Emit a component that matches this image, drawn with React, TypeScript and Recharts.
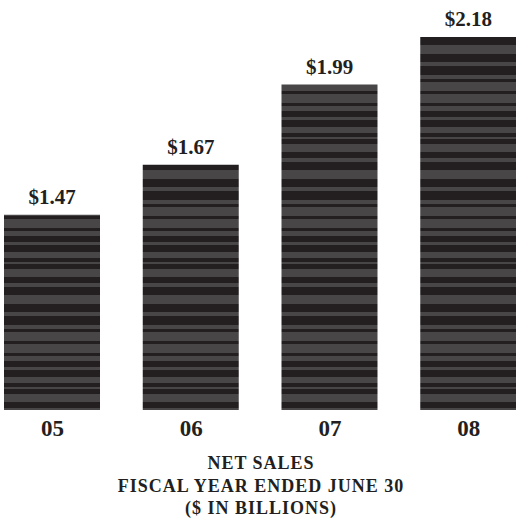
import { BarChart, Bar, XAxis, YAxis, LabelList } from "recharts";

const years = ["05", "06", "07", "08"];
const sales = [1.47, 1.67, 1.99, 2.18];
const valueLabels = ["$1.47", "$1.67", "$1.99", "$2.18"];
const titleLines = ["NET SALES", "FISCAL YEAR ENDED JUNE 30", "($ IN BILLIONS)"];

const data = years.map((year, i) => ({ year, sales: sales[i], label: valueLabels[i] }));

const INK = "#231f20";
const GREY = "#484647";
const FONT = "'Liberation Serif', 'Times New Roman', serif";

// barcode-like stripes: alternating grey / dark bands of uneven height
const stripeHeights = [4, 8, 9, 8, 4, 9, 4, 3, 9, 3, 9, 3, 5, 6, 3, 7, 6, 4, 2, 5, 8, 6];
const stripeTotal = stripeHeights.reduce((a, b) => a + b, 0);

const Stripes = () => {
  let y = 0;
  return (
    <pattern id="barcode" patternUnits="userSpaceOnUse" width={10} height={stripeTotal} y={33}>
      {stripeHeights.map((h, i) => {
        const r = <rect key={i} x={0} y={y} width={10} height={h} fill={i % 2 === 0 ? GREY : INK} />;
        y += h;
        return r;
      })}
    </pattern>
  );
};

const YearTick = (props: any) => {
  const { x, y, payload } = props;
  return (
    <text x={x} y={y} dy={18} textAnchor="middle" fill={INK} fontFamily={FONT} fontWeight="bold" fontSize={23}>
      {payload.value}
    </text>
  );
};

const ValueLabel = (props: any) => {
  const { x, y, width, value } = props;
  return (
    <text x={x + width / 2} y={y - 11} textAnchor="middle" fill={INK} fontFamily={FONT} fontWeight="bold" fontSize={21}>
      {value}
    </text>
  );
};

export default function App() {
  return (
    <div style={{ position: "absolute", left: 0, top: 0, width: 516, height: 529, overflow: "hidden", background: "#fff" }}>
      <div style={{ position: "absolute", left: -17, top: 0 }}>
        <BarChart width={555} height={529} data={data} margin={{ top: 32, right: 0, bottom: 0, left: 0 }} barSize={96}>
          <defs>
            <Stripes />
          </defs>
          <XAxis dataKey="year" axisLine={false} tickLine={false} height={119} tick={<YearTick />} interval={0} />
          <YAxis hide domain={[0.69, 2.2]} allowDataOverflow />
          <Bar dataKey="sales" fill="url(#barcode)" isAnimationActive={false}>
            <LabelList dataKey="label" content={<ValueLabel />} />
          </Bar>
        </BarChart>
      </div>
      <svg width={516} height={529} style={{ position: "absolute", left: 0, top: 0, pointerEvents: "none" }}>
        {titleLines.map((line, i) => (
          <text key={line} x={261} y={469 + i * 22.5} textAnchor="middle" fill={INK} fontFamily={FONT} fontWeight="bold" fontSize={18} letterSpacing={1}>
            {line}
          </text>
        ))}
      </svg>
    </div>
  );
}
